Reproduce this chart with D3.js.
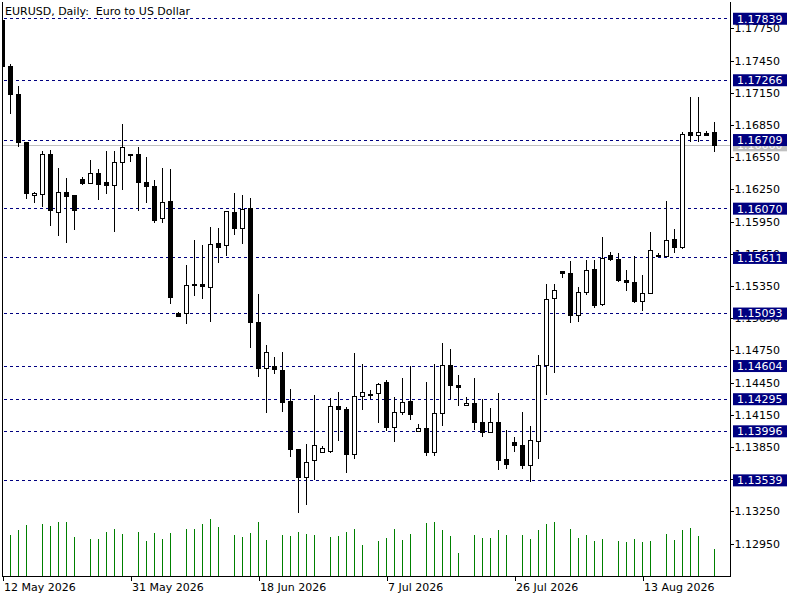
<!DOCTYPE html>
<html>
<head>
<meta charset="utf-8" />
<title>EURUSD, Daily</title>
<style>
body { margin: 0; background: #fff; }
#graph { width: 800px; height: 600px; }
text { font-family: "DejaVu Sans", sans-serif; font-size: 11px; }
</style>
</head>
<body>
<div id="graph"></div>

<script src="https://cdnjs.cloudflare.com/ajax/libs/d3/7.8.5/d3.min.js"></script>
<script>
// daily candles, oldest first
var openP = [1.17825,1.17390,1.17138,1.16688,1.16194,1.16204,1.16570,1.16036,1.16225,1.16188,
    1.16337,1.16306,1.16402,1.16309,1.16288,1.16502,1.16570,1.16570,1.16318,1.16281,
    1.15980,1.16132,1.15092,1.15095,1.15368,1.15359,1.15337,1.15741,1.15729,1.16030,
    1.15885,1.16073,1.15011,1.14583,1.14602,1.14567,1.14278,1.13828,1.13564,1.13726,
    1.13797,1.13806,1.14229,1.14201,1.13778,1.14322,1.14341,1.14350,1.14455,1.14033,
    1.14173,1.14278,1.13996,1.14024,1.13797,1.14160,1.14611,1.14425,1.14238,1.14257,
    1.14080,1.13987,1.14080,1.13735,1.13896,1.13866,1.13679,1.13903,1.14611,1.15235,
    1.15485,1.15468,1.15077,1.15291,1.15505,1.15179,1.15636,1.15598,1.15403,1.15384,
    1.15207,1.15282,1.15638,1.15626,1.15785,1.15706,1.16775,1.16753,1.16768,1.16775]
var highP = [1.17839,1.17417,1.17213,1.16691,1.16225,1.16610,1.16616,1.16452,1.16356,1.16194,
    1.16365,1.16523,1.16442,1.16607,1.16607,1.16859,1.16579,1.16642,1.16548,1.16337,
    1.16446,1.16439,1.15110,1.15545,1.15778,1.15731,1.15899,1.15887,1.16051,1.16216,
    1.16197,1.16166,1.15272,1.14797,1.14691,1.14732,1.14390,1.13831,1.13875,1.14334,
    1.13862,1.14303,1.14362,1.14220,1.14725,1.14623,1.14381,1.14443,1.14474,1.14316,
    1.14493,1.14602,1.14061,1.14455,1.14623,1.14816,1.14760,1.14518,1.14313,1.14490,
    1.14294,1.14210,1.14350,1.14005,1.13940,1.14173,1.14043,1.14704,1.15365,1.15365,
    1.15487,1.15580,1.15337,1.15589,1.15589,1.15806,1.15663,1.15654,1.15496,1.15626,
    1.15449,1.15850,1.15654,1.16141,1.15880,1.16787,1.17113,1.17113,1.16793,1.16874]
var lowP = [1.17375,1.16949,1.16642,1.16163,1.16127,1.16081,1.15911,1.15818,1.15753,1.15871,
    1.16290,1.16300,1.16151,1.16207,1.15855,1.16244,1.16502,1.16051,1.16126,1.15939,
    1.15939,1.15179,1.15058,1.14993,1.15259,1.15228,1.15014,1.15567,1.15629,1.15829,
    1.15745,1.14775,1.14505,1.14169,1.14533,1.14179,1.13754,1.13238,1.13310,1.13542,
    1.13791,1.13797,1.13903,1.13610,1.13741,1.14197,1.14294,1.14076,1.13999,1.13899,
    1.14151,1.14104,1.13994,1.13763,1.13769,1.14048,1.14300,1.14235,1.14236,1.14011,
    1.13946,1.13977,1.13633,1.13642,1.13800,1.13642,1.13521,1.13735,1.14337,1.14542,
    1.15427,1.15002,1.15017,1.15263,1.15142,1.15166,1.15580,1.15384,1.15306,1.15194,
    1.15114,1.15272,1.15617,1.15622,1.15660,1.15694,1.16688,1.16688,1.16751,1.16595]
var closeP = [1.17392,1.17131,1.16684,1.16213,1.16215,1.16579,1.16051,1.16222,1.16185,1.16051,
    1.16302,1.16393,1.16297,1.16290,1.16502,1.16642,1.16565,1.16312,1.16275,1.15964,
    1.16123,1.15244,1.15067,1.15350,1.15352,1.15347,1.15738,1.15710,1.16045,1.15885,
    1.16064,1.15008,1.14579,1.14732,1.14574,1.14263,1.13828,1.13564,1.13707,1.13866,
    1.13838,1.14229,1.14197,1.13778,1.14322,1.14359,1.14328,1.14434,1.14030,1.14173,
    1.14266,1.14151,1.14024,1.13797,1.14164,1.14611,1.14421,1.14402,1.14257,1.14076,
    1.13987,1.14080,1.13722,1.13689,1.13866,1.13679,1.13912,1.14611,1.15226,1.15310,
    1.15464,1.15077,1.15291,1.15496,1.15170,1.15608,1.15598,1.15399,1.15384,1.15207,
    1.15282,1.15682,1.15626,1.15775,1.15706,1.16763,1.16753,1.16781,1.16753,1.16660]
// tick volume (0 = no bar shown)
var volume = [45000,41300,46000,51000,0,52000,50000,54000,54000,39000,
    0,37000,37000,44000,47000,42000,0,44000,35000,43000,
    37000,43000,0,47000,47000,52000,57000,49000,0,41000,
    39000,43000,54000,36000,0,41000,40000,44000,42000,41000,
    0,39000,40000,44000,47000,31000,0,35000,38000,47000,
    36000,42000,0,53000,54000,46000,40000,23000,0,41000,
    38000,38000,46000,41000,0,41000,37000,46000,52000,54000,
    0,47000,38000,41000,35000,37000,0,35000,34000,37000,
    34000,35000,0,42000,36000,46000,48000,40000,0,27000]

var levels = [1.17839,1.17266,1.16709,1.16070,1.15611,1.15093,1.14604,1.14295,1.13996,1.13539]
var priceTicks = [1.1295,1.1325,1.1355,1.1385,1.1415,1.1445,1.1475,1.1505,1.1535,
    1.1565,1.1595,1.1625,1.1655,1.1685,1.1715,1.1745,1.1775]
var dateTickIndex = [0,16,32,48,64,80]
var dateTickLabels = ["12 May 2026","31 May 2026","18 Jun 2026","7 Jul 2026","26 Jul 2026","13 Aug 2026"]
var title = "EURUSD, Daily:  Euro to US Dollar"

!(function(){
    "use strict"

    var width = 800, height = 600
    var margin = {top:2, left:2.5, right:730.5, bottom:576.5}
    var svg = d3.select("#graph").append("svg").attr("width", width).attr("height", height)

    var data = openP.map(function(o, i){
        return {i:i, o:o, h:highP[i], l:lowP[i], c:closeP[i], v:volume[i]}
    })

    var xScale = d3.scalePoint().domain(d3.range(data.length)).range([2.5, 714.5])
    var yScale = d3.scaleLinear().domain([1.1295, 1.1775]).range([543.6, 28.3])
    var vScale = d3.scaleLinear().domain([0, 57000]).range([576, 519])

    svg.append("clipPath").attr("id", "plotClip").append("rect")
        .attr("x", margin.left).attr("y", margin.top)
        .attr("width", margin.right - margin.left).attr("height", margin.bottom - margin.top)

    var layer = svg.append("g").attr("clip-path", "url(#plotClip)")
        .attr("shape-rendering", "crispEdges")

    // bid line
    var last = data[data.length - 1]
    layer.append("line")
        .attr("x1", margin.left).attr("x2", margin.right)
        .attr("y1", yScale(last.c)).attr("y2", yScale(last.c))
        .attr("stroke", "#c0c0c0")

    // horizontal levels
    layer.selectAll(".level").data(levels).enter().append("line").classed("level", true)
        .attr("x1", margin.left + 1).attr("x2", margin.right)
        .attr("y1", function(d){ return yScale(d) }).attr("y2", function(d){ return yScale(d) })
        .attr("stroke", "#000080").attr("stroke-dasharray", "3,3")

    // volumes
    layer.selectAll(".vol").data(data.filter(function(d){ return d.v > 0 })).enter()
        .append("line").classed("vol", true)
        .attr("x1", function(d){ return xScale(d.i) }).attr("x2", function(d){ return xScale(d.i) })
        .attr("y1", vScale(0)).attr("y2", function(d){ return vScale(d.v) })
        .attr("stroke", "#008000")

    // candles
    var candle = layer.selectAll(".candle").data(data).enter().append("g").classed("candle", true)
    candle.append("line")
        .attr("x1", function(d){ return xScale(d.i) }).attr("x2", function(d){ return xScale(d.i) })
        .attr("y1", function(d){ return yScale(d.h) }).attr("y2", function(d){ return yScale(d.l) })
        .attr("stroke", "#000")
    candle.append("rect")
        .attr("x", function(d){ return xScale(d.i) - 2 })
        .attr("width", 4)
        .attr("y", function(d){ return yScale(Math.max(d.o, d.c)) })
        .attr("height", function(d){ return Math.abs(yScale(d.o) - yScale(d.c)) })
        .attr("fill", function(d){ return d.c < d.o ? "#000" : "#fff" })
        .attr("stroke", "#000")

    // frame
    var frame = svg.append("g").attr("shape-rendering", "crispEdges").attr("stroke", "#000")
    frame.append("line").attr("x1", margin.left).attr("x2", margin.left).attr("y1", margin.top).attr("y2", margin.bottom)
    frame.append("line").attr("x1", margin.right).attr("x2", margin.right).attr("y1", margin.top).attr("y2", margin.bottom)
    frame.append("line").attr("x1", margin.left).attr("x2", margin.right).attr("y1", margin.bottom).attr("y2", margin.bottom)

    // price axis
    var yAxis = d3.axisRight(yScale).tickValues(priceTicks).tickSize(3).tickPadding(1)
        .tickFormat(d3.format(".5f"))
    var yg = svg.append("g").attr("transform", "translate(" + [margin.right, 0] + ")").call(yAxis)
    yg.select(".domain").remove()
    yg.selectAll("text").attr("font-family", "DejaVu Sans").attr("font-size", "11px").attr("fill", "#000")
    yg.selectAll("line").attr("shape-rendering", "crispEdges")

    // date axis
    var xAxis = d3.axisBottom(xScale).tickValues(dateTickIndex).tickSize(4).tickPadding(3)
        .tickFormat(function(d){ return dateTickLabels[dateTickIndex.indexOf(d)] })
    var xg = svg.append("g").attr("transform", "translate(" + [0, margin.bottom] + ")").call(xAxis)
    xg.select(".domain").remove()
    xg.selectAll("text").attr("text-anchor", "start").attr("x", 1)
        .attr("font-family", "DejaVu Sans").attr("font-size", "11px").attr("fill", "#000")
    xg.selectAll("line").attr("shape-rendering", "crispEdges")

    // bid label (mostly hidden behind the level labels)
    var labels = svg.append("g")
    labels.append("rect").attr("x", 733).attr("width", 54)
        .attr("y", yScale(last.c) - 6).attr("height", 12).attr("fill", "#c0c0c0")
    labels.append("text").attr("x", 737).attr("y", yScale(last.c)).attr("dy", "0.35em")
        .attr("fill", "#fff").text(d3.format(".5f")(last.c))

    var lab = labels.selectAll(".lvl").data(levels).enter().append("g").classed("lvl", true)
    lab.append("rect").attr("x", 733).attr("width", 54)
        .attr("y", function(d){ return yScale(d) - 6 }).attr("height", 12).attr("fill", "#000080")
    lab.append("text").attr("x", 737).attr("y", function(d){ return yScale(d) }).attr("dy", "0.35em")
        .attr("fill", "#fff").text(function(d){ return d3.format(".5f")(d) })

    svg.append("text").attr("x", 5).attr("y", 15).attr("fill", "#000")
        .attr("xml:space", "preserve").style("white-space", "pre").text(title)
}());
</script>
</body>
</html>
